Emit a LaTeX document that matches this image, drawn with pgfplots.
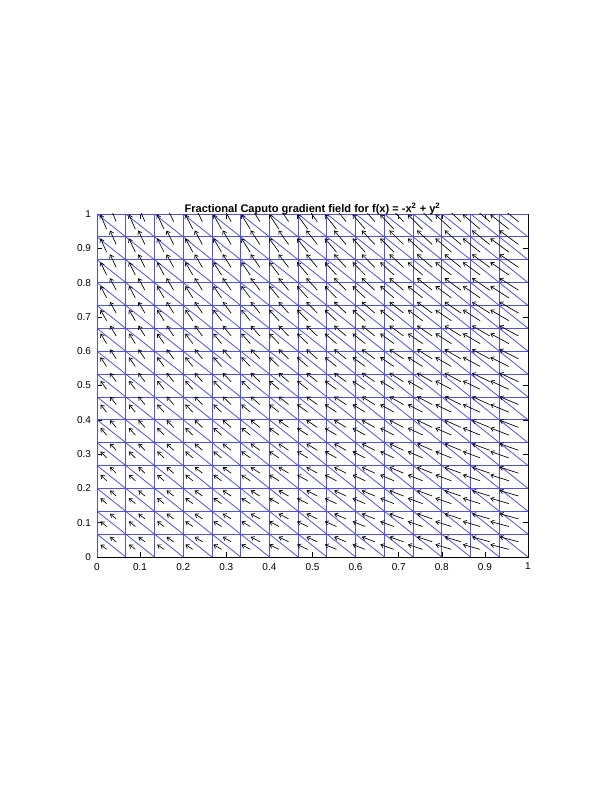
\documentclass[border=0pt]{standalone}
\usepackage{pgfplots}
\pgfplotsset{compat=1.18}
\usepackage{pgfplotstable}
\usepackage{fontspec}
\setmainfont{Liberation Sans}
\usetikzlibrary{arrows.meta}
\definecolor{meshblue}{RGB}{80,80,235}

% lower-left triangle centroids (x, u)
\pgfplotstableread{
x u
0.02222 -0.01410
0.08889 -0.01482
0.15556 -0.01590
0.22222 -0.01725
0.28889 -0.01881
0.35556 -0.02057
0.42222 -0.02251
0.48889 -0.02460
0.55556 -0.02684
0.62222 -0.02922
0.68889 -0.03172
0.75556 -0.03436
0.82222 -0.03711
0.88889 -0.03998
0.95556 -0.04296
}\tabA
% upper-right triangle centroids (x, u)
\pgfplotstableread{
x u
0.04444 -0.01429
0.11111 -0.01515
0.17778 -0.01632
0.24444 -0.01775
0.31111 -0.01938
0.37778 -0.02120
0.44444 -0.02319
0.51111 -0.02533
0.57778 -0.02761
0.64444 -0.03004
0.71111 -0.03259
0.77778 -0.03526
0.84444 -0.03806
0.91111 -0.04096
0.97778 -0.04397
}\tabB

\pgfplotsset{
  qv/.style={black, line width=0.5pt, -{Straight Barb[length=2.4pt,width=3.4pt]}},
  ml/.style={meshblue, line width=0.6pt, no marks, forget plot},
}

\begin{document}
\begin{tikzpicture}
\path[use as bounding box] (0,0) rectangle (456pt,590.25pt);
\begin{axis}[
  at={(72.75pt,172.5pt)}, anchor=south west,
  scale only axis, width=323.25pt, height=257.25pt,
  xmin=0, xmax=1, ymin=0, ymax=1,
  xtick={0,0.1,...,1.01}, ytick={0,0.1,...,1.01},
  xticklabels={0,0.1,0.2,0.3,0.4,0.5,0.6,0.7,0.8,0.9,1},
  yticklabels={0,0.1,0.2,0.3,0.4,0.5,0.6,0.7,0.8,0.9,1},
  tick align=inside, major tick length=3.5pt,
  tick style={black, line width=0.4pt},
  axis line style={black, line width=0.5pt},
  ticklabel style={font=\fontsize{7.5}{9}\selectfont},
  /pgf/number format/assume math mode=true,
  xticklabel style={yshift=-1pt},
  yticklabel style={xshift=-1pt},
  title={Fractional Caputo gradient field for f(x) = -x\textsuperscript{2} + y\textsuperscript{2}},
  title style={font=\bfseries\fontsize{8.3}{10}\selectfont, at={(0.5,1)}, anchor=south, yshift=-10pt},
]
% mesh: vertical and horizontal lines
\pgfplotsinvokeforeach{0,0.06667,0.13333,0.2,0.26667,0.33333,0.4,0.46667,0.53333,0.6,0.66667,0.73333,0.8,0.86667,0.93333,1}{
  \addplot[ml] coordinates {(#1,0) (#1,1)};
  \addplot[ml] coordinates {(0,#1) (1,#1)};
}
% mesh: diagonals (lower part)
\pgfplotsinvokeforeach{0.06667,0.13333,0.2,0.26667,0.33333,0.4,0.46667,0.53333,0.6,0.66667,0.73333,0.8,0.86667,0.93333,1}{
  \addplot[ml] coordinates {(0,#1) (#1,0)};
}
% mesh: diagonals (upper part)
\pgfplotsinvokeforeach{0.06667,0.13333,0.2,0.26667,0.33333,0.4,0.46667,0.53333,0.6,0.66667,0.73333,0.8,0.86667,0.93333}{
  \addplot[ml] coordinates {(#1,1) (1,#1)};
}
% arrows at lower triangle centroids
\foreach \yy/\vv in {0.02222/0.01410,0.08889/0.01482,0.15556/0.01590,0.22222/0.01725,0.28889/0.01881,0.35556/0.02057,0.42222/0.02251,0.48889/0.02460,0.55556/0.02684,0.62222/0.02922,0.68889/0.03172,0.75556/0.03436,0.82222/0.03711,0.88889/0.03998,0.95556/0.04296}{
  \edef\temp{\noexpand\addplot[qv, no marks, forget plot, quiver={u=\noexpand\thisrow{u}, v=\vv}] table[x=x, y expr=\yy] {\noexpand\tabA};}
  \temp
}
% arrows at upper triangle centroids
\foreach \yy/\vv in {0.04444/0.01429,0.11111/0.01515,0.17778/0.01632,0.24444/0.01775,0.31111/0.01938,0.37778/0.02120,0.44444/0.02319,0.51111/0.02533,0.57778/0.02761,0.64444/0.03004,0.71111/0.03259,0.77778/0.03526,0.84444/0.03806,0.91111/0.04096,0.97778/0.04397}{
  \edef\temp{\noexpand\addplot[qv, no marks, forget plot, quiver={u=\noexpand\thisrow{u}, v=\vv}] table[x=x, y expr=\yy] {\noexpand\tabB};}
  \temp
}
\end{axis}
\end{tikzpicture}
\end{document}
